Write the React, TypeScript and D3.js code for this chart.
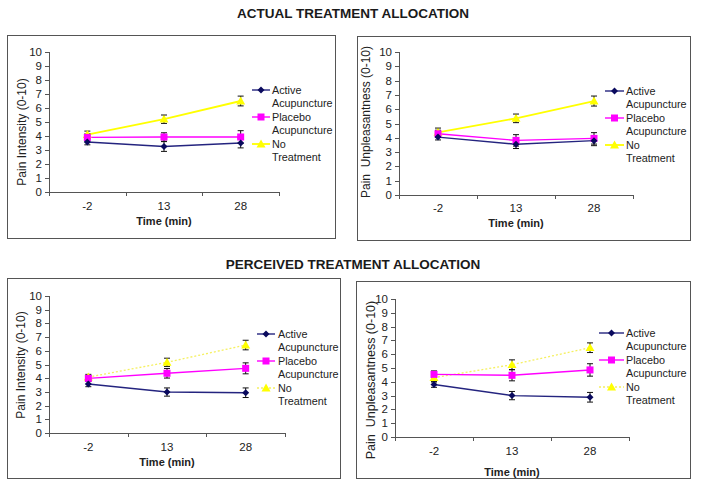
import React from "react";
import * as d3 from "d3";

const timeCategories = ["-2", "13", "28"];
const yTicks = [0, 1, 2, 3, 4, 5, 6, 7, 8, 9, 10];
const seriesNames = ["Active Acupuncture", "Placebo Acupuncture", "No Treatment"];
const legendLines = [["Active", "Acupuncture"], ["Placebo", "Acupuncture"], ["No", "Treatment"]];

// Panel A: actual allocation, pain intensity
const actualIntensityActive = [3.57, 3.25, 3.5];
const actualIntensityPlacebo = [3.9, 3.93, 3.93];
const actualIntensityNone = [4.1, 5.2, 6.5];
const actualIntensityActiveErr = [0.2, 0.35, 0.35];
const actualIntensityPlaceboErr = [0.25, 0.3, 0.45];
const actualIntensityNoneErr = [0.25, 0.3, 0.35];

// Panel B: actual allocation, pain unpleasantness
const actualUnplActive = [4.05, 3.55, 3.8];
const actualUnplPlacebo = [4.28, 3.82, 3.96];
const actualUnplNone = [4.38, 5.36, 6.57];
const actualUnplActiveErr = [0.2, 0.3, 0.35];
const actualUnplPlaceboErr = [0.25, 0.4, 0.4];
const actualUnplNoneErr = [0.3, 0.3, 0.35];

// Panel C: perceived allocation, pain intensity
const percIntensityActive = [3.58, 2.99, 2.94];
const percIntensityPlacebo = [3.99, 4.36, 4.72];
const percIntensityNone = [4.08, 5.16, 6.42];
const percIntensityActiveErr = [0.2, 0.3, 0.35];
const percIntensityPlaceboErr = [0.2, 0.35, 0.4];
const percIntensityNoneErr = [0.2, 0.3, 0.35];

// Panel D: perceived allocation, pain unpleasantness
const percUnplActive = [3.8, 3.0, 2.88];
const percUnplPlacebo = [4.54, 4.47, 4.86];
const percUnplNone = [4.3, 5.24, 6.47];
const percUnplActiveErr = [0.2, 0.3, 0.35];
const percUnplPlaceboErr = [0.25, 0.4, 0.45];
const percUnplNoneErr = [0.3, 0.35, 0.35];

const FONT = "Arial, 'Liberation Sans', sans-serif";
const COLORS = ["#24247f", "#ff00ff", "#ffff00"];
const MARKER_COLORS = ["#0a0a5e", "#ff00ff", "#ffff00"];

type PanelProps = {
  box: { x: number; y: number; w: number; h: number };
  axisX: number;
  axisEnd: number;
  y0: number;
  y10: number;
  yLabel: string;
  yLabelX: number;
  yLabelY: number;
  yLabelSize: number;
  xLabelY: number;
  timeY: number;
  legend: { x1: number; x2: number; tx: number; y: number };
  values: number[][];
  errors: number[][];
  dashedNone: boolean;
};

function Marker({ kind, cx, cy }: { kind: number; cx: number; cy: number }) {
  if (kind === 0) {
    const s = 3.5;
    return (
      <path
        d={`M${cx},${cy - s}L${cx + s},${cy}L${cx},${cy + s}L${cx - s},${cy}Z`}
        fill={MARKER_COLORS[0]}
      />
    );
  }
  if (kind === 1) {
    return <rect x={cx - 3.5} y={cy - 3.5} width={7} height={7} fill={MARKER_COLORS[1]} />;
  }
  const s = 4.5;
  return (
    <path
      d={`M${cx},${cy - s}L${cx + s},${cy + s * 0.75}L${cx - s},${cy + s * 0.75}Z`}
      fill={MARKER_COLORS[2]}
    />
  );
}

function Panel(p: PanelProps) {
  const x = d3.scaleBand<string>().domain(timeCategories).range([p.axisX, p.axisEnd]);
  const y = d3.scaleLinear().domain([0, 10]).range([p.y0, p.y10]);
  const line = d3
    .line<number>()
    .x((_, i) => (x(timeCategories[i]) as number) + x.bandwidth() / 2)
    .y((d) => y(d));
  const boundaries = [...timeCategories.map((c) => x(c) as number), p.axisEnd];
  const axisColor = "#555";
  return (
    <g>
      <rect x={p.box.x + 0.5} y={p.box.y + 0.5} width={p.box.w} height={p.box.h} fill="#fff" stroke="#555" strokeWidth={1} />
      {/* y axis */}
      <line x1={p.axisX + 0.5} x2={p.axisX + 0.5} y1={p.y10} y2={p.y0} stroke={axisColor} />
      {yTicks.map((t) => (
        <g key={t}>
          <line x1={p.axisX - 4} x2={p.axisX + 0.5} y1={Math.round(y(t)) + 0.5} y2={Math.round(y(t)) + 0.5} stroke={axisColor} />
          <text x={p.axisX - 7} y={y(t)} textAnchor="end" dominantBaseline="central" fontSize={11.5} fontFamily={FONT} fill="#222">
            {t}
          </text>
        </g>
      ))}
      {/* x axis */}
      <line x1={p.axisX} x2={p.axisEnd} y1={Math.round(p.y0) + 0.5} y2={Math.round(p.y0) + 0.5} stroke={axisColor} />
      {boundaries.map((b, i) => (
        <line key={i} x1={Math.round(b) + 0.5} x2={Math.round(b) + 0.5} y1={p.y0} y2={p.y0 + 4} stroke={axisColor} />
      ))}
      {timeCategories.map((c) => (
        <text key={c} x={(x(c) as number) + x.bandwidth() / 2} y={p.xLabelY} textAnchor="middle" dominantBaseline="central" fontSize={11.5} fontFamily={FONT} fill="#222">
          {c}
        </text>
      ))}
      <text x={(p.axisX + p.axisEnd) / 2} y={p.timeY} textAnchor="middle" dominantBaseline="central" fontSize={11} fontWeight="bold" fontFamily={FONT} fill="#222">
        Time (min)
      </text>
      <text
        transform={`translate(${p.yLabelX},${p.yLabelY}) rotate(-90)`}
        textAnchor="middle"
        dominantBaseline="central"
        fontSize={p.yLabelSize}
        fontFamily={FONT}
        fill="#222"
        style={{ whiteSpace: "pre" }}
      >
        {p.yLabel}
      </text>
      {/* series lines (no-treatment first so others overlay) */}
      {[2, 1, 0].map((si) => (
        <path
          key={`l${si}`}
          d={line(p.values[si]) as string}
          fill="none"
          stroke={si === 2 && p.dashedNone ? "#f5f060" : COLORS[si]}
          strokeWidth={si === 2 ? (p.dashedNone ? 1.3 : 1.8) : 1.4}
          strokeDasharray={si === 2 && p.dashedNone ? "2,2" : undefined}
        />
      ))}
      {/* error bars */}
      {[2, 1, 0].map((si) =>
        p.values[si].map((v, i) => {
          const cx = (x(timeCategories[i]) as number) + x.bandwidth() / 2;
          const e = p.errors[si][i];
          return (
            <g key={`e${si}-${i}`} stroke="#111" strokeWidth={1}>
              <line x1={cx} x2={cx} y1={y(v - e)} y2={y(v + e)} />
              <line x1={cx - 3} x2={cx + 3} y1={y(v + e)} y2={y(v + e)} />
              <line x1={cx - 3} x2={cx + 3} y1={y(v - e)} y2={y(v - e)} />
            </g>
          );
        })
      )}
      {/* markers */}
      {[2, 1, 0].map((si) =>
        p.values[si].map((v, i) => (
          <Marker key={`m${si}-${i}`} kind={si} cx={(x(timeCategories[i]) as number) + x.bandwidth() / 2} cy={y(v)} />
        ))
      )}
      {/* legend */}
      {seriesNames.map((name, si) => {
        const ly = p.legend.y + si * 27;
        return (
          <g key={name}>
            <line
              x1={p.legend.x1}
              x2={p.legend.x2}
              y1={ly}
              y2={ly}
              stroke={si === 2 && p.dashedNone ? "#f5f060" : COLORS[si]}
              strokeWidth={si === 2 && !p.dashedNone ? 1.8 : 1.4}
              strokeDasharray={si === 2 && p.dashedNone ? "2,2" : undefined}
            />
            <Marker kind={si} cx={(p.legend.x1 + p.legend.x2) / 2} cy={ly} />
            {legendLines[si].map((t, k) => (
              <text key={k} x={p.legend.tx} y={ly + k * 12.5} dominantBaseline="central" fontSize={10.8} fontFamily={FONT} fill="#222">
                {t}
              </text>
            ))}
          </g>
        );
      })}
    </g>
  );
}

export default function App() {
  return (
    <svg width={701} height={491} style={{ position: "absolute", left: 0, top: 0, background: "#fff" }}>
      <rect width={701} height={491} fill="#fff" />
      <text x={353} y={13} textAnchor="middle" dominantBaseline="central" fontSize={13.5} fontWeight="bold" fontFamily={FONT} fill="#1a1a1a">
        ACTUAL TREATMENT ALLOCATION
      </text>
      <text x={353} y={264} textAnchor="middle" dominantBaseline="central" fontSize={13.5} fontWeight="bold" fontFamily={FONT} fill="#1a1a1a">
        PERCEIVED TREATMENT ALLOCATION
      </text>
      <Panel
        box={{ x: 7, y: 35, w: 328, h: 203 }}
        axisX={49}
        axisEnd={279}
        y0={192}
        y10={52}
        yLabel="Pain Intensity (0-10)"
        yLabelX={22}
        yLabelY={132}
        yLabelSize={12}
        xLabelY={206}
        timeY={221}
        legend={{ x1: 252, x2: 270, tx: 272, y: 90 }}
        values={[actualIntensityActive, actualIntensityPlacebo, actualIntensityNone]}
        errors={[actualIntensityActiveErr, actualIntensityPlaceboErr, actualIntensityNoneErr]}
        dashedNone={false}
      />
      <Panel
        box={{ x: 357, y: 36, w: 333, h: 204 }}
        axisX={399}
        axisEnd={633}
        y0={195}
        y10={52}
        yLabel="Pain  Unpleasantness (0-10)"
        yLabelX={366}
        yLabelY={122}
        yLabelSize={12}
        xLabelY={208}
        timeY={223}
        legend={{ x1: 605, x2: 624, tx: 626, y: 91 }}
        values={[actualUnplActive, actualUnplPlacebo, actualUnplNone]}
        errors={[actualUnplActiveErr, actualUnplPlaceboErr, actualUnplNoneErr]}
        dashedNone={false}
      />
      <Panel
        box={{ x: 7, y: 278, w: 333, h: 200 }}
        axisX={49}
        axisEnd={285}
        y0={433}
        y10={296}
        yLabel="Pain Intensity (0-10)"
        yLabelX={21}
        yLabelY={365}
        yLabelSize={12}
        xLabelY={447}
        timeY={462}
        legend={{ x1: 257, x2: 275, tx: 278, y: 334 }}
        values={[percIntensityActive, percIntensityPlacebo, percIntensityNone]}
        errors={[percIntensityActiveErr, percIntensityPlaceboErr, percIntensityNoneErr]}
        dashedNone={true}
      />
      <Panel
        box={{ x: 356, y: 281, w: 334, h: 197 }}
        axisX={395}
        axisEnd={629}
        y0={437}
        y10={299}
        yLabel="Pain  Unpleasantness (0-10)"
        yLabelX={371}
        yLabelY={380}
        yLabelSize={12.5}
        xLabelY={451}
        timeY={472}
        legend={{ x1: 599, x2: 624, tx: 626, y: 333 }}
        values={[percUnplActive, percUnplPlacebo, percUnplNone]}
        errors={[percUnplActiveErr, percUnplPlaceboErr, percUnplNoneErr]}
        dashedNone={true}
      />
    </svg>
  );
}
